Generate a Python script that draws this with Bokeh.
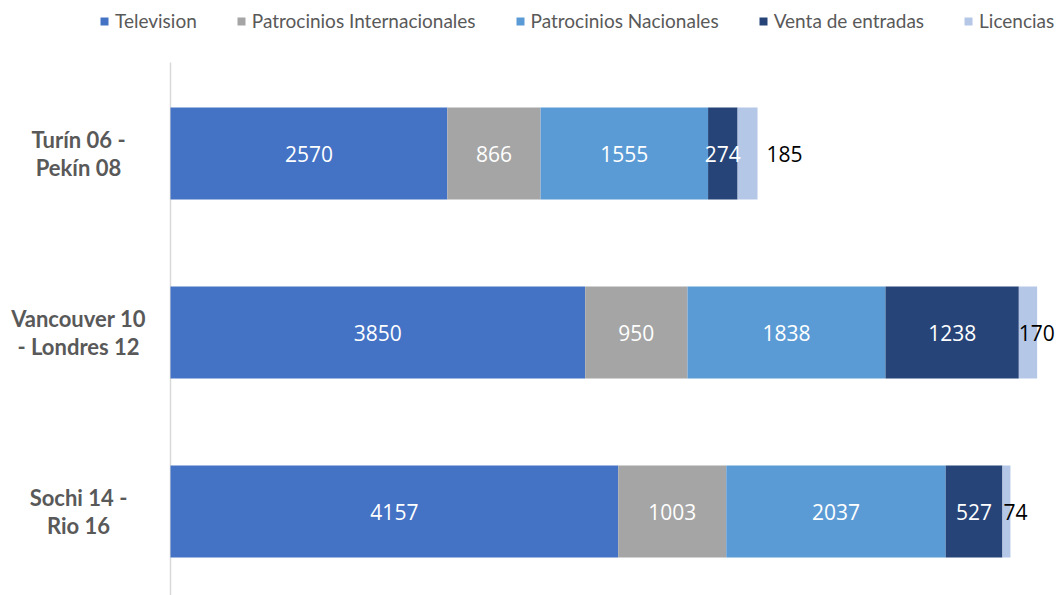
import numpy as np
from bokeh.plotting import figure
from bokeh.models import ColumnDataSource, Legend, LegendItem, Range1d
from bokeh.core.properties import value
from bokeh.embed import file_html
from bokeh.resources import INLINE

# ---- data ----
events = ["Turín 06 -\nPekín 08", "Vancouver 10\n- Londres 12", "Sochi 14 -\nRio 16"]
series = ["Television", "Patrocinios Internacionales", "Patrocinios Nacionales",
          "Venta de entradas", "Licencias"]
television = [2570, 3850, 4157]
patr_int = [866, 950, 1003]
patr_nac = [1555, 1838, 2037]
entradas = [274, 1238, 527]
licencias = [185, 170, 74]

# ---- style ----
colors = ["#4472C4", "#A5A5A5", "#5B9BD5", "#264478", "#B4C7E7"]
lic_label_offsets = [29, 0, 1]   # px, Excel's outside-label placement

values = [television, patr_int, patr_nac, entradas, licencias]
n = len(events)
ypos = np.arange(n)[::-1].astype(float)

data = {"y": ypos, "event": events}
for name, vals in zip(series, values):
    data[name] = vals
src = ColumnDataSource(data)

W, H = 1057, 595
px_per_x = 0.10771          # pixels per value unit
px_per_y = 179.0            # pixels per category step
x0_px, y0_px = 170, 153     # pixel of value 0 / of first category centre
x_start = -x0_px / px_per_x
x_end = (W - x0_px) / px_per_x
y_top = (n - 1) + y0_px / px_per_y
y_bot = y_top - H / px_per_y

p = figure(width=W, height=H, output_backend="svg", toolbar_location=None,
           x_range=Range1d(x_start, x_end), y_range=Range1d(y_bot, y_top),
           x_axis_location=None, y_axis_location=None,
           min_border=0)
p.grid.visible = False
p.outline_line_color = None
p.background_fill_color = "white"

# category axis line
axis_top = (n - 1) + (y0_px - 62) / px_per_y
p.segment(x0=[0], y0=[y_bot], x1=[0], y1=[axis_top], line_color="#D9D9D9", line_width=1.5)

renderers = p.hbar_stack(series, y="y", height=92 / px_per_y, color=colors, source=src,
                         line_color=None)

legend = Legend(items=[LegendItem(label=s, renderers=[r]) for s, r in zip(series, renderers)],
                orientation="horizontal", location=(99, 563),
                glyph_width=10, glyph_height=10, label_standoff=6, spacing=39,
                padding=2, margin=0, border_line_color=None, background_fill_alpha=0,
                label_text_font="Lato", label_text_font_size="19px", label_text_color="#595959")
p.add_layout(legend, "center")

# segment labels
arr = np.array(values, dtype=float)
cum = np.cumsum(arr, axis=0)
starts = cum - arr
centers = starts + arr / 2

xs, ys, texts = [], [], []
for i in range(len(series) - 1):
    for j in range(n):
        xs.append(centers[i, j]); ys.append(ypos[j]); texts.append(str(values[i][j]))
in_src = ColumnDataSource(dict(x=xs, y=ys, t=texts))
p.text(x="x", y="y", text="t", source=in_src, text_align="center",
       text_baseline="middle", text_color="white",
       text_font=value("Open Sans"), text_font_size="21px")

lic_src = ColumnDataSource(dict(x=starts[-1], y=ypos, t=[str(v) for v in licencias],
                                off=lic_label_offsets))
p.text(x="x", y="y", text="t", source=lic_src, x_offset="off",
       text_align="left", text_baseline="middle", text_color="black",
       text_font=value("Open Sans"), text_font_size="21px")

# category labels
cat_src = ColumnDataSource(dict(x=np.zeros(n), y=ypos, t=events))
p.text(x="x", y="y", text="t", source=cat_src, x_offset=-92,
       text_align="center", text_baseline="middle", text_color="#595959",
       text_font=value("Lato"), text_font_style="bold", text_font_size="22px",
       text_line_height=1.06)

open("out.html", "w").write(file_html(p, INLINE))
